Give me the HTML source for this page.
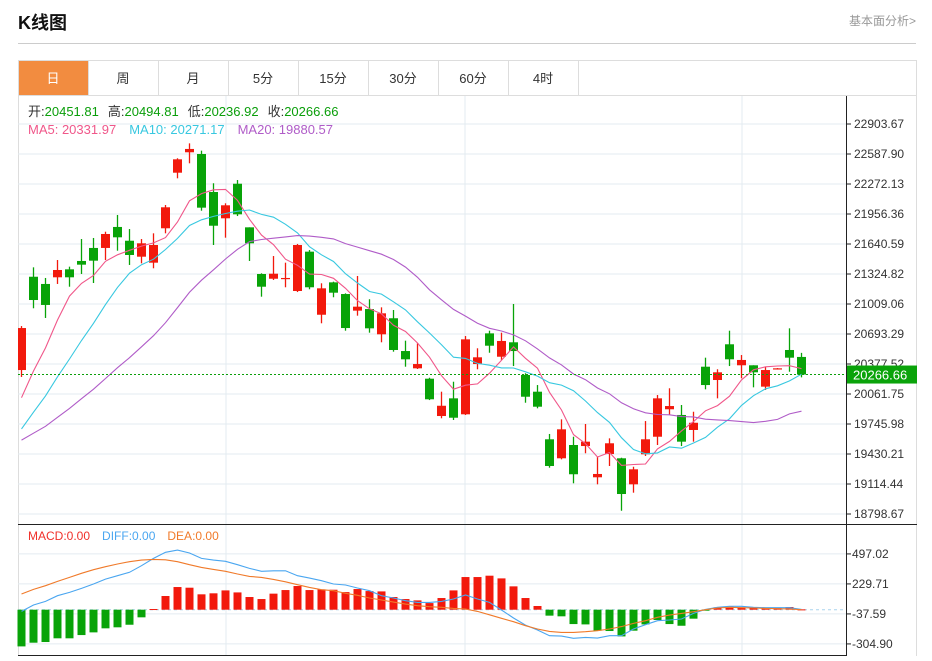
<!DOCTYPE html>
<html><head><meta charset="utf-8">
<style>
body{margin:0;background:#fff;width:932px;height:656px;overflow:hidden;font-family:"Liberation Sans","Noto Sans CJK SC",sans-serif;}
svg text{font-family:"Liberation Sans","Noto Sans CJK SC",sans-serif;}
</style></head>
<body>
<svg id="chart" width="932" height="656" xmlns="http://www.w3.org/2000/svg">
  <text x="18" y="29" font-size="18" font-weight="bold" fill="#111">K线图</text>
  <text x="916" y="25" font-size="12" fill="#999" text-anchor="end">基本面分析&gt;</text>
  <line x1="18" y1="43.5" x2="916" y2="43.5" stroke="#ccc"/>
  <rect x="18.5" y="60.5" width="898" height="596" fill="none" stroke="#ddd"/>
  <g id="tabs"></g>
  <g id="grid"></g>
  <g id="main"></g>
  <g id="macd"></g>
  <g id="axes"></g>
  <text x="28" y="116" font-size="13"><tspan fill="#333">开:</tspan><tspan fill="#0a9e0a">20451.81</tspan><tspan fill="#333" dx="9">高:</tspan><tspan fill="#0a9e0a">20494.81</tspan><tspan fill="#333" dx="9">低:</tspan><tspan fill="#0a9e0a">20236.92</tspan><tspan fill="#333" dx="9">收:</tspan><tspan fill="#0a9e0a">20266.66</tspan></text>
  <text x="28" y="134" font-size="13"><tspan fill="#f0578a">MA5: 20331.97</tspan><tspan fill="#38c8e0" dx="13">MA10: 20271.17</tspan><tspan fill="#b05cc8" dx="13">MA20: 19880.57</tspan></text>
  <text x="28" y="540" font-size="12"><tspan fill="#f0302a">MACD:0.00</tspan><tspan fill="#4aa6f0" dx="12">DIFF:0.00</tspan><tspan fill="#f07a2a" dx="12">DEA:0.00</tspan></text>
</svg>
<script>
const opens=[20314,21296,21220,21290,21374,21462,21599,21599,21820,21675,21507,21444,21806,22391,22606,22588,22188,21911,22275,21816,21325,21275,21277,21146,21560,20896,21237,21114,20939,20956,20690,20859,20514,20332,20223,19830,20016,19848,20377,20700,20454,20606,20262,20086,19585,19385,19525,19514,19185,19430,19385,19111,19427,19612,19901,19841,19683,20349,20209,20585,20364,20364,20139,20322,20525,20451.81];
const closes=[20756,21051,20999,21367,21290,21423,21465,21746,21711,21525,21648,21630,22027,22532,22641,22023,21833,22048,21953,21648,21191,21328,21283,21630,21185,21174,21128,20756,20981,20753,20911,20525,20427,20377,20006,19938,19812,20637,20448,20570,20620,20514,20033,19928,19304,19690,19217,19560,19220,19543,19009,19269,19585,20016,19935,19560,19759,20156,20290,20427,20420,20290,20314,20332,20444,20266.66];
const highs=[20777,21395,21283,21472,21402,21693,21704,21770,21946,21798,21693,21753,22051,22543,22700,22623,22280,22069,22314,21816,21332,21514,21444,21641,21577,21227,21244,21121,21304,21059,20974,20946,20623,20595,20233,20086,20191,20672,20543,20728,20707,21009,20280,20156,19641,19795,19612,19746,19402,19595,19391,19296,19777,20051,20122,19946,19875,20444,20322,20728,20472,20364,20349,20335,20753,20494.81];
const lows=[20241,20964,20862,21220,21191,21325,21230,21472,21570,21420,21437,21385,21753,22332,22490,21991,21630,21707,21935,21462,21086,21262,21185,21135,21164,20806,21080,20728,20886,20707,20606,20507,20349,20325,19998,19806,19788,19841,20322,20496,20420,20356,19970,19911,19286,19374,19122,19438,19111,19304,18833,19023,19409,19525,19841,19514,19560,20111,20016,20356,20227,20132,20104,20319,20296,20236.92];
const priorCloses=[19600,19550,19480,19420,19380,19450,19500,19430,19420,19360,19300,19280,19350,19420,19480,19650,19780,19900,20030];
const macdHist=[-327,-294,-288,-255,-255,-226,-202,-166,-157,-134,-68,6,122,202,196,137,146,172,154,113,95,143,175,211,175,181,178,157,184,166,163,113,95,83,59,104,172,291,291,303,279,208,104,33,-53,-59,-128,-131,-187,-190,-238,-187,-131,-92,-128,-143,-80,-9,21,27,21,15,15,18,24,3];
const diffVals=[-15,42,74,125,154,190,229,273,303,333,392,457,511,531,505,457,442,431,401,368,342,347,347,303,282,258,229,220,193,169,125,104,80,65,65,74,95,131,95,65,-3,-74,-137,-181,-232,-235,-255,-247,-253,-232,-232,-172,-134,-98,-92,-83,-33,3,21,30,30,21,18,18,18,3];
const deaVals=[140,181,214,252,288,324,356,383,407,428,442,448,445,428,401,377,359,342,318,297,288,270,249,223,199,178,169,146,128,104,86,68,50,36,27,21,12,6,-15,-45,-77,-107,-143,-172,-193,-202,-202,-196,-187,-172,-151,-122,-98,-68,-48,-33,-18,0,15,21,18,15,12,9,6,0];
const priceTicks=["22903.67","22587.90","22272.13","21956.36","21640.59","21324.82","21009.06","20693.29","20377.52","20061.75","19745.98","19430.21","19114.44","18798.67"];
const macdTicks=["497.02","229.71","-37.59","-304.90"];
const tabLabels=["日","周","月","5分","15分","30分","60分","4时"];
const lastPrice=20266.66;

const NS="http://www.w3.org/2000/svg";
function mk(tag,attrs,parent){const e=document.createElementNS(NS,tag);for(const k in attrs)e.setAttribute(k,attrs[k]);parent.appendChild(e);return e;}
const xS=i=>21.5+i*12;
const yP=v=>124+(22903.67-v)*30/315.77;
const yM=v=>609.7-v*30/267.3;
const RED="#f2190c",GREEN="#08a308";

// tabs
const tabs=document.getElementById('tabs');
tabLabels.forEach((t,i)=>{
  const g=mk('g',{},tabs);
  
  
  mk('rect',{x:18.5+i*70,y:60.5,width:70,height:35,fill:i===0?'#f28c40':'#fff',stroke:'#ddd'},g);
  const tx=mk('text',{x:53+i*70,y:83,'font-size':13,'text-anchor':'middle',fill:i===0?'#fff':'#333'},g);
  tx.textContent=t;
});
mk('line',{x1:18,y1:95.5,x2:917,y2:95.5,stroke:'#ddd'},tabs);

// grid
const grid=document.getElementById('grid');
priceTicks.forEach((t,k)=>{const y=yP(parseFloat(t));mk('line',{x1:18,y1:y,x2:846,y2:y,stroke:'#e3ebf0'},grid);});
macdTicks.forEach(t=>{const y=yM(parseFloat(t));mk('line',{x1:18,y1:y,x2:846,y2:y,stroke:'#e3ebf0'},grid);});
[226,465,742].forEach(x=>{mk('line',{x1:x,y1:96,x2:x,y2:655,stroke:'#e3ebf0'},grid);});

// main panel
const main=document.getElementById('main');
mk('clipPath',{id:'clipM'},main).appendChild(document.createElementNS(NS,'rect'));
const cr=main.querySelector('clipPath rect');cr.setAttribute('x',18);cr.setAttribute('y',96);cr.setAttribute('width',828);cr.setAttribute('height',428);
const mg=mk('g',{'clip-path':'url(#clipM)'},main);
for(let i=0;i<closes.length;i++){
  const up=closes[i]>=opens[i];const c=up?RED:GREEN;const x=xS(i);
  const g=mk('g',{},mg);
  
  
  mk('line',{x1:x,y1:yP(highs[i]),x2:x,y2:yP(lows[i]),stroke:c,'stroke-width':1.3},g);
  const t=yP(Math.max(opens[i],closes[i])),b=yP(Math.min(opens[i],closes[i]));
  mk('rect',{x:x-4.5,y:t,width:9,height:Math.max(1.2,b-t),fill:c},g);
}
const all=priorCloses.concat(closes);const P=priorCloses.length;
function ma(n){const r=[];for(let i=0;i<closes.length;i++){let s=0;for(let k=0;k<n;k++)s+=all[P+i-k];r.push(s/n);}return r;}
[[5,'#f0578a','ma5-line'],[10,'#38c8e0','ma10-line'],[20,'#b05cc8','ma20-line']].forEach(([n,col,name])=>{
  const v=ma(n);const pl=mk('polyline',{points:v.map((y,i)=>xS(i)+','+yP(y).toFixed(1)).join(' '),fill:'none',stroke:col,'stroke-width':1.1},mg);
  
  
});
const pl=mk('line',{x1:18,y1:yP(lastPrice),x2:846,y2:yP(lastPrice),stroke:'#0a9e0a','stroke-dasharray':'2,2'},main);



// macd
const mc=document.getElementById('macd');
const z=mk('line',{x1:18,y1:yM(0),x2:846,y2:yM(0),stroke:'#a8d4ee','stroke-dasharray':'3,3'},mc);
macdHist.forEach((v,i)=>{
  const r=mk('rect',{x:xS(i)-4,y:Math.min(yM(0),yM(v)),width:8,height:Math.max(1,Math.abs(yM(v)-yM(0))),fill:v>=0?RED:GREEN},mc);
  
  
});
const dl=mk('polyline',{points:diffVals.map((v,i)=>xS(i)+','+yM(v).toFixed(1)).join(' '),fill:'none',stroke:'#4aa6f0','stroke-width':1.1},mc);


const el=mk('polyline',{points:deaVals.map((v,i)=>xS(i)+','+yM(v).toFixed(1)).join(' '),fill:'none',stroke:'#f07a2a','stroke-width':1.1},mc);



// axes
const ax=document.getElementById('axes');
mk('line',{x1:846.5,y1:96,x2:846.5,y2:656,stroke:'#222'},ax);
mk('line',{x1:18,y1:524.5,x2:917,y2:524.5,stroke:'#222'},ax);
mk('line',{x1:18,y1:655.5,x2:846,y2:655.5,stroke:'#222'},ax);
priceTicks.forEach(t=>{const y=yP(parseFloat(t));mk('line',{x1:846,y1:y,x2:851,y2:y,stroke:'#222'},ax);
  const tx=mk('text',{x:854,y:y+4,'font-size':12,fill:'#333'},ax);tx.textContent=t;
  
  });
macdTicks.forEach(t=>{const y=yM(parseFloat(t));mk('line',{x1:846,y1:y,x2:851,y2:y,stroke:'#222'},ax);
  const tx=mk('text',{x:852,y:y+4,'font-size':12,fill:'#333'},ax);tx.textContent=t;
  
  });
const ly=yP(lastPrice);
const lb=mk('rect',{x:847,y:ly-9,width:70,height:18,fill:'#0aa30a'},ax);


const lt=mk('text',{x:853,y:ly+5,'font-size':13,fill:'#fff'},ax);lt.textContent=lastPrice.toFixed(2);


</script>
</body></html>
